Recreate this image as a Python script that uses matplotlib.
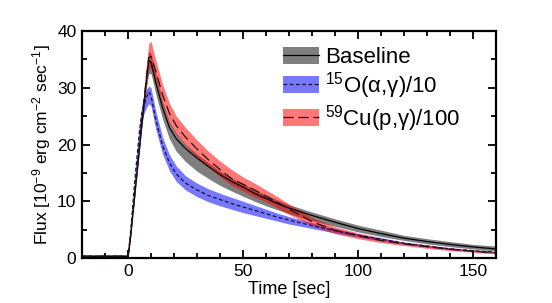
import numpy as np
import matplotlib
matplotlib.use("Agg")
import matplotlib.pyplot as plt
from matplotlib.patches import Patch
from matplotlib.lines import Line2D

plt.rcParams['font.family'] = ['Liberation Sans', 'DejaVu Sans']
plt.rcParams['mathtext.default'] = 'regular'

# time grid [sec]
t = [-20, 0, 1, 3, 5, 6, 7, 8, 9, 10, 12, 15, 18, 21, 25, 30, 35, 40, 45, 50,
     55, 60, 65, 70, 80, 90, 100, 110, 120, 130, 140, 150, 160]

# baseline
base = [0.3, 0.3, 3.5, 11.5, 19.5, 23.5, 27.5, 31.5, 34.8, 34.5, 31.0, 26.5, 23.0, 21.0, 19.3, 17.6, 16.1, 14.7, 13.5, 12.5,
        11.4, 10.5, 9.6, 8.8, 7.5, 6.3, 5.2, 4.3, 3.5, 2.9, 2.4, 1.95, 1.6]
base_lo = [0, 0, 3, 11, 19, 23, 26.5, 30, 32.5, 32.5, 29, 24.5, 21, 18.8, 17, 15.3, 14, 12.8, 11.8, 10.9,
           10.0, 9.2, 8.5, 7.8, 6.6, 5.6, 4.6, 3.8, 3.1, 2.5, 2.0, 1.6, 1.2]
base_hi = [0.5, 0.5, 4, 12, 20.5, 24.5, 28.5, 33, 36.5, 36, 32.5, 27.5, 24, 22, 20, 18.3, 16.8, 15.3, 14.1, 13.1,
           12.0, 11.1, 10.2, 9.4, 8.1, 6.9, 5.8, 4.9, 4.0, 3.4, 2.9, 2.4, 2.1]

# 15O(a,g)/10
oag = [0.3, 0.3, 4, 14, 22.5, 25.5, 27.0, 28.3, 29.3, 28.6, 24.5, 19.8, 16.8, 14.8, 13.2, 12.0, 11.0, 10.3, 9.6, 9.0,
       8.4, 7.8, 7.2, 6.7, 5.7, 4.8, 4.0, 3.3, 2.6, 2.1, 1.6, 1.3, 1.0]
oag_lo = [0, 0, 3.5, 13, 21, 24, 25.5, 26.5, 27.2, 26.8, 22.8, 18.3, 15.4, 13.5, 12, 10.8, 9.9, 9.2, 8.6, 8.0,
          7.5, 7.0, 6.5, 6.0, 5.2, 4.4, 3.7, 3.0, 2.4, 1.9, 1.45, 1.15, 0.85]
oag_hi = [0.5, 0.5, 4.5, 15, 24, 27, 28.5, 29.8, 30.3, 30, 26, 21.3, 18.2, 16.2, 14.5, 13.2, 12.2, 11.4, 10.7, 10.0,
          9.3, 8.6, 7.9, 7.3, 6.2, 5.2, 4.3, 3.6, 2.8, 2.3, 1.8, 1.45, 1.15]

# 59Cu(p,g)/100
cupg = [0.3, 0.3, 3.5, 11.5, 19.8, 24, 28, 32, 35.3, 35.5, 33.0, 28.8, 25.5, 23.3, 21.3, 19.2, 17.3, 15.6, 14.0, 13.0,
        12.0, 10.9, 9.8, 8.6, 6.4, 4.9, 3.9, 3.1, 2.5, 2.0, 1.55, 1.2, 0.9]
cupg_lo = [0, 0, 3, 11, 19, 23, 26.8, 30.5, 33.3, 33.5, 31.2, 27, 23.8, 21.8, 19.8, 17.8, 16, 14.3, 12.8, 11.8,
           10.8, 9.9, 8.8, 7.7, 5.7, 4.3, 3.4, 2.7, 2.2, 1.7, 1.3, 1.0, 0.7]
cupg_hi = [0.5, 0.5, 4, 12.2, 20.8, 25.2, 29.5, 34, 37.8, 38.2, 35, 30.6, 27.3, 25, 23, 20.8, 18.8, 17.1, 15.6, 14.3,
           13.2, 12.0, 10.8, 9.5, 7.1, 5.5, 4.4, 3.5, 2.8, 2.3, 1.8, 1.4, 1.1]

fig = plt.figure(figsize=(5.52, 3.03), dpi=100)
ax = fig.add_axes([0.1486, 0.1485, 0.75, 0.749])

gray = '#7f7f7f'
blue = (0.0, 0.0, 1.0, 0.53)
red = (1.0, 0.0, 0.0, 0.53)

ax.fill_between(t, base_lo, base_hi, color=gray, lw=0)
ax.fill_between(t, oag_lo, oag_hi, color=blue, lw=0)
ax.fill_between(t, cupg_lo, cupg_hi, color=red, lw=0)
ax.plot(t, base, color='k', lw=0.9)
ax.plot(t, oag, color='#111133', lw=0.9, ls=(0, (3, 2)))
ax.plot(t, cupg, color='#221111', lw=0.9, ls=(0, (8, 4)))

ax.set_xlim(-20, 160)
ax.set_ylim(0, 40)
ax.set_xticks([0, 50, 100, 150])
ax.set_xticks(np.arange(-20, 161, 10), minor=True)
ax.set_yticks([0, 10, 20, 30, 40])
ax.set_yticks(np.arange(0, 41, 5), minor=True)
ax.tick_params(which='both', direction='in', top=True, right=True, labelsize=12.5, width=1.3)
ax.tick_params(which='major', length=6, pad=4)
ax.tick_params(which='minor', length=3.5)
for s in ax.spines.values():
    s.set_linewidth(1.6)

ax.set_xlabel('Time [sec]', fontsize=13, labelpad=2)
ax.set_ylabel('Flux [10$^{-9}$ erg cm$^{-2}$ sec$^{-1}$]', fontsize=12.5, labelpad=3)

handles = [
    (Patch(color=gray, lw=0), Line2D([], [], color='k', lw=0.9)),
    (Patch(color=blue, lw=0), Line2D([], [], color='#111133', lw=0.9, ls=(0, (3, 2)))),
    (Patch(color=red, lw=0), Line2D([], [], color='#221111', lw=0.9, ls=(0, (8, 4)))),
]
labels = ['Baseline', '$^{15}$O(α,γ)/10', '$^{59}$Cu(p,γ)/100']
ax.legend(handles, labels, loc='upper left', bbox_to_anchor=(0.5127, 0.845),
          bbox_transform=fig.transFigure, frameon=False, borderpad=0, borderaxespad=0,
          fontsize=16, handlelength=1.6, handleheight=0.8, handletextpad=0.3, labelspacing=0.08)

fig.savefig('out.png', dpi=100)
